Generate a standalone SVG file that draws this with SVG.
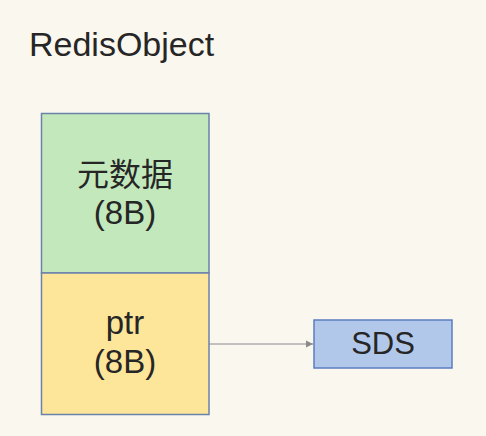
<svg xmlns="http://www.w3.org/2000/svg" width="486" height="436" viewBox="0 0 486 436">
<defs>
<style>
.t{font-family:"Liberation Sans","Noto Sans CJK SC",sans-serif;fill:#262626;text-anchor:middle}
.box{stroke:#6a82aa;stroke-width:1.5}
</style>
<marker id="ah" markerWidth="8" markerHeight="8" refX="7" refY="4" orient="auto" markerUnits="userSpaceOnUse">
<path d="M0,0.5 L7,4 L0,7.5 Z" fill="#8a8a8a"/>
</marker>
</defs>
<rect width="486" height="436" fill="#faf7ef"/>
<g id="title"><text class="t" x="29" y="56" style="text-anchor:start" font-size="34">RedisObject</text></g>
<g id="connectors">
<line x1="209" y1="344" x2="313" y2="344" stroke="#8a8a8a" stroke-width="1" marker-end="url(#ah)"/>
</g>
<g id="meta">
<rect class="box" x="41.5" y="113.5" width="167.5" height="159.5" fill="#c2e8bc"/>
<text class="t" x="125" y="186" font-size="32">元数据</text>
<text class="t" x="125" y="224" font-size="33">(8B)</text>
</g>
<g id="ptr">
<rect class="box" x="41.5" y="273" width="167.5" height="141.5" fill="#fde69a"/>
<text class="t" x="125" y="334" font-size="33">ptr</text>
<text class="t" x="125" y="373" font-size="33">(8B)</text>
</g>
<g id="sds">
<rect x="314" y="320" width="138" height="48" fill="#b2c8ea" stroke="#5b7dc0" stroke-width="1.5"/>
<text class="t" x="383" y="354" font-size="31">SDS</text>
</g>
</svg>
